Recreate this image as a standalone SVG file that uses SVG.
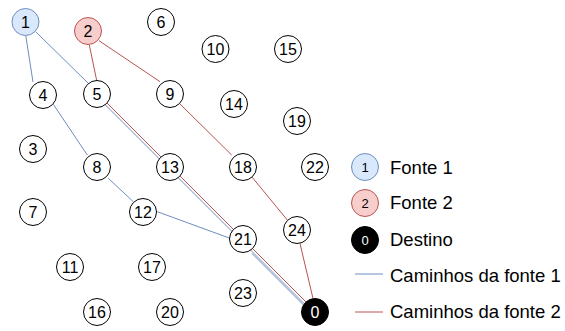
<svg xmlns="http://www.w3.org/2000/svg" width="565" height="331" viewBox="0 0 565 331">
<style>
.n circle{fill:#fff;stroke:#000;stroke-width:1}
.n text{font-family:"Liberation Sans",Arial,sans-serif;font-size:16px;text-anchor:middle;fill:#000}
.src1 circle{fill:#dae8fc;stroke:#6c8ebf}
.src2 circle{fill:#f8cecc;stroke:#b85450}
.dst circle{fill:#000;stroke:#000}
.dst text{fill:#fff}
.b{stroke:#6c8ebf;stroke-width:1;fill:none}
.r{stroke:#b85450;stroke-width:1;fill:none}
.lg{font-family:"Liberation Sans",Arial,sans-serif;font-size:18.5px;fill:#000}
.ln text{font-size:13px}
</style>
<rect width="565" height="331" fill="#fff"/>
<g id="connectors">
<line class="b" x1="25.5" y1="34" x2="33" y2="82"/>
<line class="b" x1="53.3" y1="104.3" x2="87.3" y2="155"/>
<line class="b" x1="108.3" y1="178.3" x2="133.3" y2="201.7"/>
<line class="b" x1="157.3" y1="211.7" x2="230" y2="238.3"/>
<line class="b" x1="35.7" y1="31.7" x2="88.3" y2="83.3"/>
<line class="b" x1="105" y1="104.5" x2="307" y2="306.5"/>
<line class="b" x1="252" y1="253.5" x2="305.5" y2="307"/>
<line class="r" x1="89.3" y1="45" x2="96.7" y2="80.5"/>
<line class="r" x1="107" y1="103" x2="309" y2="305"/>
<line class="r" x1="99" y1="40.7" x2="160" y2="81.7"/>
<line class="r" x1="180" y1="104" x2="231.7" y2="155"/>
<line class="r" x1="251.7" y1="176.7" x2="287.3" y2="220"/>
<line class="r" x1="300" y1="243.5" x2="313" y2="298.5"/>
</g>
<g id="node-1" class="n src1"><circle cx="25.5" cy="22" r="13.5"/><text x="25.5" y="28">1</text></g>
<g id="node-2" class="n src2"><circle cx="88" cy="31" r="13.5"/><text x="88" y="37">2</text></g>
<g id="node-6" class="n"><circle cx="161" cy="22" r="13.5"/><text x="161" y="28">6</text></g>
<g id="node-10" class="n"><circle cx="215.5" cy="49" r="13.5"/><text x="215.5" y="55">10</text></g>
<g id="node-15" class="n"><circle cx="288" cy="49" r="13.5"/><text x="288" y="55">15</text></g>
<g id="node-4" class="n"><circle cx="43" cy="95" r="13.5"/><text x="43" y="101">4</text></g>
<g id="node-5" class="n"><circle cx="97" cy="94" r="13.5"/><text x="97" y="100">5</text></g>
<g id="node-9" class="n"><circle cx="170" cy="94" r="13.5"/><text x="170" y="100">9</text></g>
<g id="node-14" class="n"><circle cx="234" cy="104" r="13.5"/><text x="234" y="110">14</text></g>
<g id="node-19" class="n"><circle cx="297" cy="121" r="13.5"/><text x="297" y="127">19</text></g>
<g id="node-3" class="n"><circle cx="33" cy="149" r="13.5"/><text x="33" y="155">3</text></g>
<g id="node-8" class="n"><circle cx="97" cy="167" r="13.5"/><text x="97" y="173">8</text></g>
<g id="node-13" class="n"><circle cx="170" cy="167" r="13.5"/><text x="170" y="173">13</text></g>
<g id="node-18" class="n"><circle cx="243" cy="167" r="13.5"/><text x="243" y="173">18</text></g>
<g id="node-22" class="n"><circle cx="315" cy="167" r="13.5"/><text x="315" y="173">22</text></g>
<g id="node-7" class="n"><circle cx="33" cy="212" r="13.5"/><text x="33" y="218">7</text></g>
<g id="node-12" class="n"><circle cx="143" cy="212" r="13.5"/><text x="143" y="218">12</text></g>
<g id="node-24" class="n"><circle cx="297" cy="230" r="13.5"/><text x="297" y="236">24</text></g>
<g id="node-21" class="n"><circle cx="243" cy="239" r="13.5"/><text x="243" y="245">21</text></g>
<g id="node-11" class="n"><circle cx="70" cy="267" r="13.5"/><text x="70" y="273">11</text></g>
<g id="node-17" class="n"><circle cx="152" cy="267" r="13.5"/><text x="152" y="273">17</text></g>
<g id="node-23" class="n"><circle cx="243" cy="293" r="13.5"/><text x="243" y="299">23</text></g>
<g id="node-16" class="n"><circle cx="97" cy="312" r="13.5"/><text x="97" y="318">16</text></g>
<g id="node-20" class="n"><circle cx="170" cy="312" r="13.5"/><text x="170" y="318">20</text></g>
<g id="node-0" class="n dst"><circle cx="315" cy="312" r="13.5"/><text x="315" y="318">0</text></g>
<g id="legend">
<g class="n src1 ln"><circle cx="365" cy="167" r="13.5"/><text x="365" y="171.5">1</text></g>
<text class="lg" x="390" y="173.5">Fonte 1</text>
<g class="n src2 ln"><circle cx="365" cy="203" r="13.5"/><text x="365" y="207.5">2</text></g>
<text class="lg" x="390" y="209">Fonte 2</text>
<g class="n dst ln"><circle cx="365" cy="240" r="13.5"/><text x="365" y="244.5">0</text></g>
<text class="lg" x="390" y="246">Destino</text>
<line class="b" x1="355" y1="274" x2="383" y2="274" stroke-width="1.5"/>
<text class="lg" x="390" y="281.5">Caminhos da fonte 1</text>
<line class="r" x1="355" y1="312" x2="383" y2="312" stroke-width="1.5"/>
<text class="lg" x="390" y="317.5">Caminhos da fonte 2</text>
</g>
</svg>
